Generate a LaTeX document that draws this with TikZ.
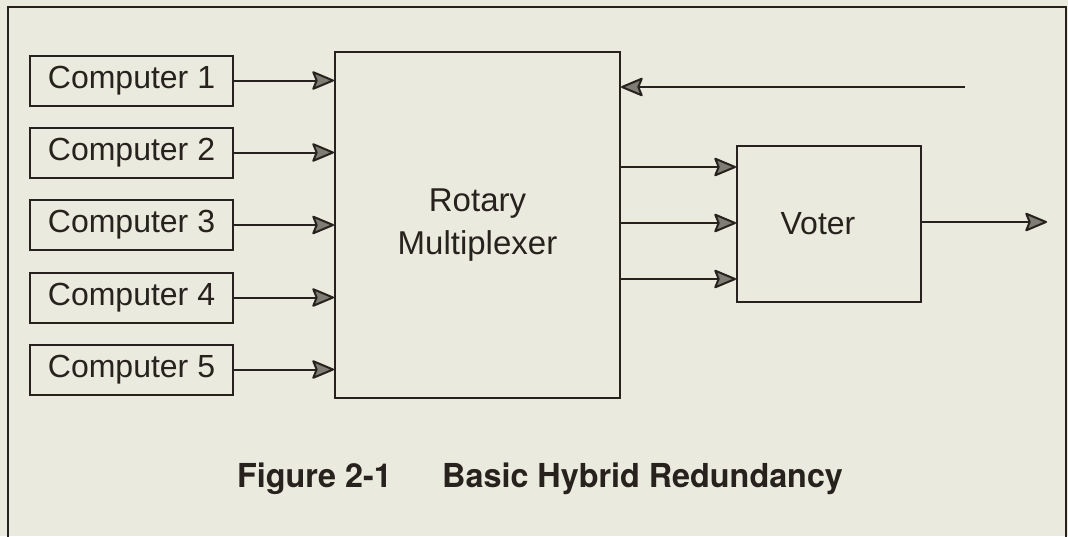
\documentclass[tikz,border=0pt]{standalone}
\usepackage{fontspec}
\setmainfont{Liberation Sans}
\newfontfamily\capfont[FakeStretch=0.98]{TeX Gyre Heros}
\usetikzlibrary{arrows.meta}
\definecolor{paper}{RGB}{234,234,222}
\definecolor{ink}{RGB}{40,34,30}
\definecolor{tipgray}{RGB}{125,125,115}
\tikzset{
  box/.style={draw=ink, line width=2pt, rectangle, inner sep=0pt, text=ink},
  compbox/.style={box, minimum width=203pt, minimum height=50pt, font=\fontsize{32}{34}\selectfont},
  link/.style={line width=2pt, draw=ink, -{Stealth[length=24pt,width=20pt,inset=4pt,fill=tipgray,line width=2pt,round]}},
}
\begin{document}
\begin{tikzpicture}[x=1pt,y=-1pt]
\fill[paper] (0,0) rectangle (1068,536);
\useasboundingbox (0,0) rectangle (1068,536);
% outer frame
\draw[draw=ink, line width=2pt] (8,540) -- (8,7) -- (1066,7) -- (1066,540);
% computers
\node[compbox] (c1) at (131.5,80.5) {Computer 1};
\node[compbox] (c2) at (131.5,152.5) {Computer 2};
\node[compbox] (c3) at (131.5,225) {Computer 3};
\node[compbox] (c4) at (131.5,297.5) {Computer 4};
\node[compbox] (c5) at (131.5,369.5) {Computer 5};
% multiplexer
\node[box, minimum width=285pt, minimum height=346pt, align=center,
      font=\fontsize{33}{43}\selectfont] (mux) at (477.5,225) {Rotary\\Multiplexer};
% voter
\node[box, minimum width=184pt, minimum height=156pt,
      font=\fontsize{32}{34}\selectfont] (voter) at (829,224) {\hspace*{-22pt}Voter};
% inputs
\foreach \i in {1,...,5} {
  \draw[link] (c\i.east) -- (c\i.east -| mux.west);
}
% feedback
\coordinate (fb) at (965,87);
\draw[link] (fb) -- (fb -| mux.east);
% mux to voter
\foreach \yy in {167,223,279} {
  \coordinate (m\yy) at (620,\yy);
  \draw[link] (m\yy -| mux.east) -- (m\yy -| voter.west);
}
% output
\coordinate (out) at (1047,222);
\draw[link] (voter.east |- out) -- (out);
% caption
\node[anchor=base west, text=ink, inner sep=0pt,
      font=\capfont\bfseries\fontsize{33}{36}\selectfont] (capa) at (237,487) {Figure 2-1};
\node[anchor=base west, text=ink, inner sep=0pt,
      font=\capfont\bfseries\fontsize{33}{36}\selectfont] (capb) at (442,487) {Basic Hybrid Redundancy};
\end{tikzpicture}
\end{document}
